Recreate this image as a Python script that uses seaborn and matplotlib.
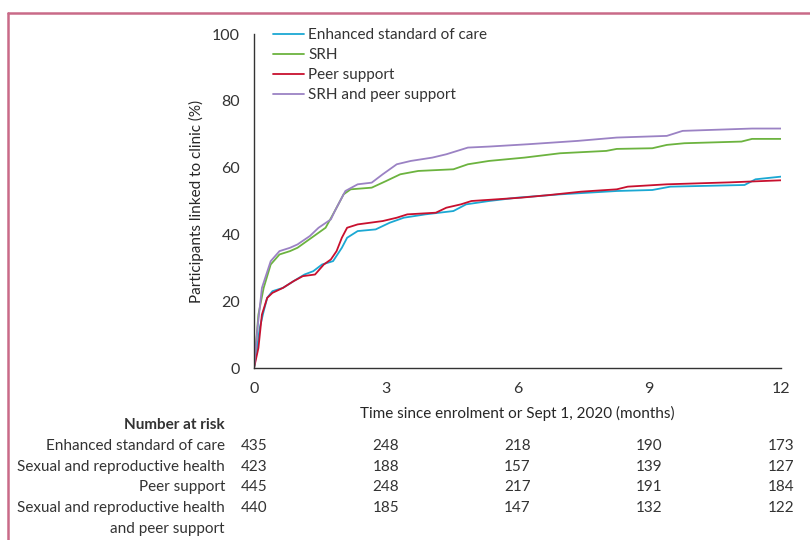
import numpy as np
import pandas as pd
import matplotlib
matplotlib.use("Agg")
import matplotlib.pyplot as plt
import seaborn as sns
from matplotlib.lines import Line2D

# --- Data (months, % linked) ---
esc_t = [0, 0.05, 0.13, 0.22, 0.30, 0.42, 0.66, 0.90, 1.15, 1.35, 1.55, 1.80, 2.00, 2.12, 2.36, 2.77, 3.09, 3.41, 3.90, 4.54, 4.83, 5.35, 5.99, 6.97, 8.26, 9.07, 9.48, 11.17, 11.42, 12.0]
esc_y = [0, 4, 12, 17, 21, 23, 24, 26, 28, 29, 31, 32, 36, 39, 41, 41.5, 43.5, 45, 46, 47, 49, 50, 51, 52, 53, 53.3, 54.3, 54.8, 56.5, 57.3]

srh_t = [0, 0.10, 0.22, 0.38, 0.58, 0.82, 0.99, 1.31, 1.63, 1.84, 2.04, 2.20, 2.68, 3.01, 3.33, 3.74, 4.54, 4.87, 5.35, 6.16, 6.97, 8.02, 8.26, 9.07, 9.40, 9.80, 11.10, 11.34, 12.0]
srh_y = [0, 16, 24, 31, 34, 35, 36, 39, 42, 47, 52, 53.5, 54, 56, 58, 59, 59.5, 61, 62, 63, 64.3, 65, 65.6, 65.8, 66.8, 67.3, 67.8, 68.6, 68.6]

peer_t = [0, 0.10, 0.18, 0.30, 0.42, 0.66, 0.90, 1.11, 1.39, 1.59, 1.75, 1.88, 2.00, 2.12, 2.36, 2.93, 3.25, 3.49, 4.14, 4.38, 4.71, 4.95, 6.08, 6.73, 7.45, 8.26, 8.51, 9.40, 10.86, 12.0]
peer_y = [0, 6, 16, 21, 22.5, 24, 26, 27.5, 28, 31, 32.5, 35, 39, 42, 43, 44, 45, 46, 46.5, 48, 49, 50, 51, 51.8, 52.8, 53.5, 54.3, 55, 55.6, 56.2]

combo_t = [0, 0.08, 0.18, 0.38, 0.58, 0.82, 0.99, 1.27, 1.47, 1.75, 1.84, 1.96, 2.08, 2.36, 2.68, 2.93, 3.25, 3.57, 4.06, 4.38, 4.87, 5.35, 6.24, 7.37, 8.26, 9.40, 9.76, 11.34, 12.0]
combo_y = [0, 12, 24, 32, 35, 36, 37, 39.5, 42, 44.5, 47, 50, 53, 55, 55.5, 58, 61, 62, 63, 64, 66, 66.3, 67, 68, 69, 69.5, 71, 71.7, 71.7]

groups = ["Enhanced standard of care", "SRH", "Peer support", "SRH and peer support"]
colors = ["#1ba8d3", "#6cb33f", "#c8102e", "#9b82c4"]

risk_times = [0, 3, 6, 9, 12]
risk_labels = ["Enhanced standard of care", "Sexual and reproductive health",
               "Peer support", "Sexual and reproductive health\nand peer support"]
risk_esc = [435, 248, 218, 190, 173]
risk_srh = [423, 188, 157, 139, 127]
risk_peer = [445, 248, 217, 191, 184]
risk_combo = [440, 185, 147, 132, 122]

# --- Build long table ---
frames = []
for g, t, y in zip(groups, [esc_t, srh_t, peer_t, combo_t], [esc_y, srh_y, peer_y, combo_y]):
    frames.append(pd.DataFrame({"t": t, "pct": y, "group": g}))
df = pd.concat(frames, ignore_index=True)

sns.set_style("white")
plt.rcParams["font.family"] = ["Lato", "DejaVu Sans"]
plt.rcParams["text.color"] = "#333333"

fig = plt.figure(figsize=(8.1, 5.4), dpi=100)
ax = fig.add_axes([0.3136, 0.3185, 0.6506, 0.6185])

sns.lineplot(data=df, x="t", y="pct", hue="group", hue_order=groups,
             palette=colors, lw=1.3, sort=False, estimator=None, ax=ax)

ax.set_xlim(0, 12)
ax.set_ylim(0, 100)
ax.set_xticks(risk_times)
ax.set_yticks([0, 20, 40, 60, 80, 100])
ax.tick_params(direction="out", length=8, width=1, colors="#333333", labelsize=11.5, pad=2)
for s in ["top", "right"]:
    ax.spines[s].set_visible(False)
for s in ["left", "bottom"]:
    ax.spines[s].set_color("#333333")
    ax.spines[s].set_linewidth(1)
ax.set_xlabel("Time since enrolment or Sept 1, 2020 (months)", fontsize=11, labelpad=7)
ax.set_ylabel("Participants linked to clinic (%)", fontsize=11, labelpad=6)

ax.legend(loc="upper left", bbox_to_anchor=(0.025, 1.035), frameon=False, fontsize=11,
          handlelength=2.0, handletextpad=0.3, labelspacing=0.38, borderaxespad=0)

# --- Number at risk table ---
trans = ax.get_xaxis_transform()
fig.text(225 / 810, 1 - 425 / 540, "Number at risk", ha="right", va="center",
         fontsize=11, fontweight="bold")
rows = [risk_esc, risk_srh, risk_peer, risk_combo]
row_y = [446, 467, 487, 508]
for lab, vals, yp in zip(risk_labels, rows, row_y):
    lines = lab.split("\n")
    fig.text(225 / 810, 1 - yp / 540, lines[0], ha="right", va="center", fontsize=11)
    if len(lines) > 1:
        fig.text(225 / 810, 1 - (yp + 21) / 540, lines[1], ha="right", va="center", fontsize=11)
    yax = (1 - yp / 540 - 0.3185) / 0.6185
    for tt, v in zip(risk_times, vals):
        ax.text(tt, yax, str(v), transform=trans, ha="center", va="center",
                fontsize=11, clip_on=False)

# --- Frame lines ---
fig.add_artist(Line2D([8 / 810, 1], [1 - 13 / 540, 1 - 13 / 540], color="#c96a88", lw=1.8))
fig.add_artist(Line2D([8 / 810, 8 / 810], [0, 1 - 13 / 540], color="#c96a88", lw=1.8))

fig.savefig("out.png", dpi=100)
